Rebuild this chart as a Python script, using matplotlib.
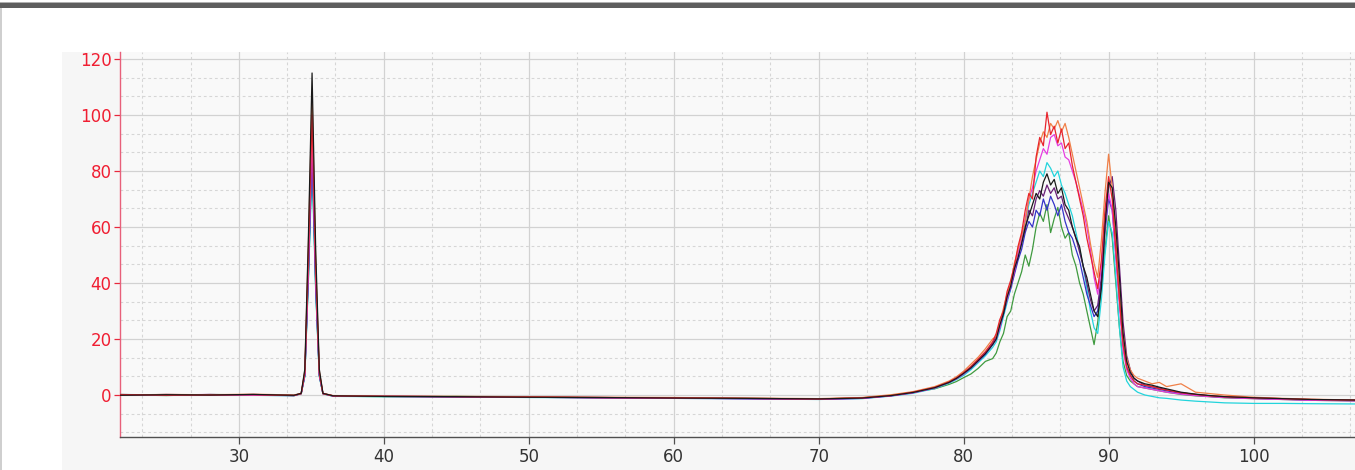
import numpy as np
import matplotlib
matplotlib.use("Agg")
import matplotlib.pyplot as plt
from matplotlib.patches import Rectangle
from matplotlib.ticker import MultipleLocator

# retention axis (shared by every trace)
x_left = [21.8, 25, 28, 31, 33.8, 34.3, 34.55, 34.8, 35.05, 35.3, 35.55, 35.8, 36.5,
          40, 45, 50, 55, 60, 65, 70, 73, 75, 76.5, 78, 79, 79.5, 80, 80.5, 81, 81.5, 82]
x_peak = [82.25, 82.5, 82.75, 83, 83.25, 83.5, 83.75, 84, 84.25, 84.5, 84.75, 85,
          85.25, 85.5, 85.75, 86, 86.25, 86.5, 86.75, 87, 87.25, 87.5, 87.75, 88,
          88.25, 88.5, 88.75, 89, 89.25, 89.5, 89.75, 90, 90.25, 90.5, 90.75, 91,
          91.25, 91.5, 91.75, 92]
x_tail = [92.5, 93, 93.5, 94, 95, 96, 97, 98, 100, 102, 104, 107]

# signal of each run
green = ([0.1, -0.2, 0.2, 0, -0.2, 0.4, 6.8, 42, 85, 38, 6.8, 0.4, -0.4,
          -0.6, -0.5, -0.8, -1.0, -1.1, -1.2, -1.4, -1.0, -0.1, 1.0, 2.2, 3.8, 4.8, 6.2, 7.5, 9.5, 12, 13],
         [15, 19, 22, 28, 30, 36, 40, 44, 50, 46, 52, 60, 65, 62, 68, 58, 63, 67, 60, 56,
          58, 50, 46, 40, 36, 30, 24, 18, 26, 38, 52, 64, 56, 40, 24, 12, 7, 5, 4, 3],
         [2.5, 2, 1.5, 1, 0.2, -0.3, -0.6, -1.0, -1.3, -1.6, -1.9, -2.1])
cyan = ([0.2, 0, 0.1, -0.1, -0.3, 0.5, 6.6, 41, 82, 37, 6.6, 0.5, -0.5,
         -0.6, -0.7, -0.9, -1.0, -1.2, -1.4, -1.6, -1.3, -0.4, 0.6, 2.3, 4.2, 5.5, 7.0, 9.0, 11.5, 14, 17],
        [19, 23, 28, 33, 38, 44, 50, 55, 62, 68, 72, 76, 80, 78, 83, 81, 78, 80, 75, 72,
         68, 64, 58, 52, 46, 38, 30, 24, 22, 34, 50, 62, 58, 42, 24, 10, 5, 3, 2, 1],
        [0, -0.5, -1, -1.2, -1.8, -2.2, -2.5, -2.8, -3, -3, -3.1, -3.2])
blue = ([0, 0.1, -0.1, 0.2, -0.2, 0.5, 7.0, 43, 87, 39, 7.0, 0.5, -0.3,
         -0.5, -0.7, -0.8, -0.9, -1.1, -1.3, -1.5, -1.2, -0.3, 0.8, 2.5, 4.5, 5.8, 7.5, 9.5, 12, 14.5, 18],
        [20, 24, 29, 34, 38, 43, 48, 52, 58, 62, 60, 66, 64, 70, 66, 71, 68, 64, 68, 62,
         58, 56, 52, 48, 42, 36, 32, 28, 30, 40, 58, 70, 66, 50, 34, 18, 10, 7, 5, 4],
        [3, 2.5, 2, 1.5, 0.5, 0, -0.5, -0.8, -1.2, -1.5, -1.8, -2.0])
purple = ([-0.1, 0.2, 0, 0.1, -0.1, 0.5, 7.2, 45, 90, 41, 7.2, 0.5, -0.3,
           -0.4, -0.6, -0.8, -1.0, -1.1, -1.3, -1.5, -1.1, -0.2, 0.9, 2.6, 4.6, 6.0, 7.8, 9.8, 12.5, 15, 18.5],
          [21, 25, 30, 35, 39, 44, 50, 55, 59, 66, 64, 70, 73, 71, 75, 72, 74, 70, 71, 66,
           63, 60, 56, 51, 46, 40, 34, 30, 32, 42, 62, 74, 78, 66, 46, 26, 14, 9, 6, 5],
          [3.5, 3, 2.5, 1.8, 0.8, 0.2, -0.3, -0.7, -1.1, -1.4, -1.7, -1.9])
magenta = ([0.1, 0, 0.2, -0.1, -0.2, 0.5, 7.4, 46, 93, 42, 7.4, 0.5, -0.4,
            -0.5, -0.6, -0.8, -1.0, -1.2, -1.3, -1.5, -1.2, -0.3, 0.8, 2.5, 4.5, 5.8, 7.5, 9.8, 12, 15, 18],
           [20, 24, 30, 34, 39, 44, 50, 56, 63, 70, 74, 80, 84, 88, 86, 92, 93, 89, 90, 85,
            84, 80, 76, 71, 66, 60, 52, 42, 36, 45, 60, 72, 66, 50, 32, 16, 9, 6, 4, 3],
           [2.5, 2, 1.5, 1, 0.3, -0.2, -0.6, -0.9, -1.3, -1.6, -1.9, -2.1])
orange = ([0, 0.2, 0.1, 0.3, 0, 0.6, 8.6, 54, 107, 48, 8.6, 0.6, -0.2,
           -0.4, -0.5, -0.6, -0.8, -0.9, -1.1, -1.3, -0.9, 0.1, 1.2, 3.0, 5.0, 6.5, 8.5, 11, 13.5, 16.5, 20],
          [21, 26, 31, 36, 40, 47, 52, 57, 62, 70, 78, 84, 90, 94, 92, 97, 95, 98, 94, 97,
           92, 86, 80, 74, 68, 62, 54, 47, 42, 55, 72, 86, 74, 56, 36, 22, 13, 9, 7, 6],
          [5, 4, 4.5, 3, 4, 1, 0.5, 0, -0.8, -1.2, -1.5, -1.8])
red = ([0.2, -0.1, 0, 0.1, -0.2, 0.5, 8.0, 50, 100, 45, 8.0, 0.5, -0.3,
        -0.5, -0.6, -0.7, -0.9, -1.0, -1.2, -1.4, -1.0, -0.2, 1.0, 2.7, 4.7, 6.1, 8.0, 10.2, 12.8, 15.5, 19],
       [22, 27, 30, 37, 41, 46, 53, 58, 66, 72, 70, 85, 92, 89, 101, 93, 96, 90, 95, 88,
        90, 82, 76, 70, 64, 56, 50, 44, 38, 48, 66, 78, 70, 52, 34, 18, 10, 7, 5, 4],
       [3.5, 3, 2.2, 1.8, 0.8, 0.2, -0.3, -0.6, -1.0, -1.3, -1.6, -1.8])
black = ([-0.1, 0.1, 0, 0.2, -0.1, 0.6, 9.2, 57, 115, 52, 9.2, 0.6, -0.3,
          -0.5, -0.6, -0.8, -0.9, -1.1, -1.2, -1.4, -1.1, -0.2, 0.9, 2.6, 4.5, 5.9, 7.7, 9.7, 12.2, 14.8, 18],
         [20, 25, 29, 35, 39, 45, 49, 54, 60, 64, 68, 72, 70, 76, 79, 75, 77, 72, 74, 68,
          66, 60, 56, 53, 46, 42, 36, 30, 28, 38, 60, 76, 74, 60, 42, 22, 12, 8, 6, 5],
         [4, 3.5, 2.8, 2.2, 1.0, 0.3, -0.2, -0.6, -1.0, -1.3, -1.6, -1.8])

runs = [green, cyan, blue, purple, magenta, orange, red, black]
colors = ['#3f9a3f', '#22d4dc', '#3434c8', '#6a1f78', '#e63ce0', '#f08048', '#e8242c', '#1a1a1a']

W, H = 1355, 470
fig = plt.figure(figsize=(W / 100, H / 100), dpi=100, facecolor='white')

# window frame and light panel behind the chart
fig.patches.append(Rectangle((0, (H - 8) / H), 1, 5 / H, transform=fig.transFigure,
                             facecolor='#5e5e5e', edgecolor='none', zorder=-5))
fig.patches.append(Rectangle((0, (H - 3) / H), 1, 1.5 / H, transform=fig.transFigure,
                             facecolor='#b0b0b0', edgecolor='none', zorder=-5))
fig.patches.append(Rectangle((0, 0), 1.5 / W, (H - 8) / H, transform=fig.transFigure,
                             facecolor='#cfcfcf', edgecolor='none', zorder=-5))
fig.patches.append(Rectangle((62 / W, 0), 1, (H - 52) / H, transform=fig.transFigure,
                             facecolor='#f6f6f6', edgecolor='none', zorder=-5))

ax = fig.add_axes([120 / W, 33 / H, (W - 120) / W, (437 - 52) / H])
ax.set_zorder(2)
ax.set_facecolor('#f9f9f9')

x = x_left + x_peak + x_tail
for (a, b, c), col in zip(runs, colors):
    ax.plot(x, a + b + c, color=col, lw=0.9, zorder=3)

ax.set_xlim(21.8, 107.0)
ax.set_ylim(-15, 122.5)
ax.xaxis.set_major_locator(MultipleLocator(10))
ax.xaxis.set_minor_locator(MultipleLocator(10 / 3))
ax.yaxis.set_major_locator(MultipleLocator(20))
ax.yaxis.set_minor_locator(MultipleLocator(20 / 3))

ax.grid(which='major', color='#d2d2d2', lw=0.9, ls='-', zorder=0)
ax.grid(which='minor', color='#d6d6d6', lw=0.8, ls=(0, (2.5, 2.5)), zorder=0)
ax.set_axisbelow(True)

for s in ['top', 'right']:
    ax.spines[s].set_visible(False)
ax.spines['left'].set_color('#e8607a')
ax.spines['left'].set_linewidth(1.0)
ax.spines['bottom'].set_color('#505050')
ax.spines['bottom'].set_linewidth(1.0)

ax.tick_params(axis='y', which='major', colors='#e8283c', labelcolor='#f01e32',
               length=4, width=0.9, pad=2, labelsize=12)
ax.tick_params(axis='x', which='major', colors='#505050', labelcolor='#333333',
               length=5, width=0.9, pad=3, labelsize=12)
ax.tick_params(which='minor', length=0)

fig.savefig('out.png', dpi=100, facecolor=fig.get_facecolor())
